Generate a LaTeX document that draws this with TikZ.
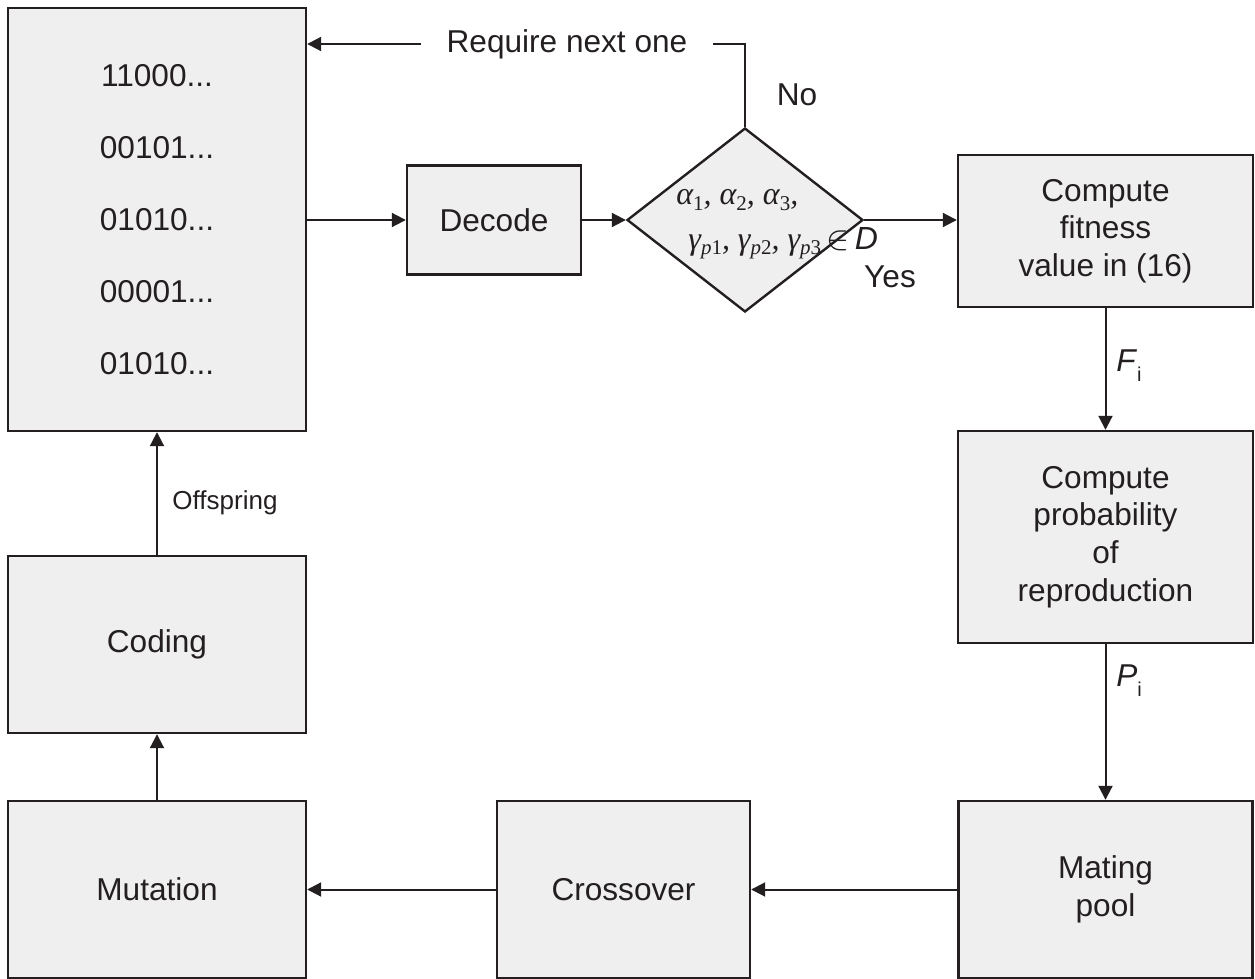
\documentclass[tikz,border=0pt]{standalone}
\usepackage{fontspec}
\setmainfont{Liberation Sans}
\newfontfamily\tmsfont{Liberation Serif}
\usetikzlibrary{shapes.geometric,arrows.meta}
\definecolor{boxfill}{HTML}{EFEFEF}
\definecolor{ink}{HTML}{231F20}
\newcommand\mainsz{\fontsize{15.8}{18.8}\selectfont}
\newcommand\gsub[1]{\raisebox{-0.35ex}{\fontsize{10.5}{12}\selectfont #1}}
\begin{document}
\begin{tikzpicture}[x=0.5pt,y=-0.5pt,
  box/.style={draw=ink,fill=boxfill,line width=1.2pt,rectangle,inner sep=0pt,align=center,font=\mainsz,text=ink},
  arr/.style={draw=ink,line width=1pt,-{Triangle[length=7pt,width=7pt]}},
  plain/.style={draw=ink,line width=1pt},
  lbl/.style={inner sep=0pt,font=\mainsz,text=ink},
  dtext/.style={inner sep=0pt,font=\fontsize{16}{19}\selectfont,text=ink,anchor=west}
]
\useasboundingbox (0,0) rectangle (1255,979);

\node[box,minimum width=149pt,minimum height=211.5pt,font=\fontsize{15.8}{36}\selectfont] (pop) at (157,219.5)
  {11000...\\00101...\\01010...\\00001...\\01010...};
\node[box,minimum width=87pt,minimum height=54.5pt] (dec) at (494,220) {Decode};
\node[draw=ink,fill=boxfill,line width=1.2pt,diamond,inner sep=0pt,minimum width=118pt,minimum height=92pt] (dia) at (745,220) {};
\node[dtext] (d1) at (676,200) {\tmsfont\itshape α\gsub{\upshape 1}, α\gsub{\upshape 2}, α\gsub{\upshape 3},};
\node[dtext] (d2) at (688,243) {\tmsfont\itshape γ\gsub{p\upshape 1}, γ\gsub{p\upshape 2}, γ\gsub{p\upshape 3}\,$\in$\,{\normalfont\itshape D}};
\node[box,minimum width=147.5pt,minimum height=76pt] (fit) at (1105.5,231) {Compute\\fitness\\value in (16)};
\node[box,minimum width=147.5pt,minimum height=106pt] (prob) at (1105.5,537) {Compute\\probability\\of\\reproduction};
\node[box,minimum width=147pt,minimum height=88.5pt] (mate) at (1105.5,889.5) {Mating\\pool};
\node[box,minimum width=126.5pt,minimum height=88.5pt] (cross) at (623.5,889.5) {Crossover};
\node[box,minimum width=149pt,minimum height=88.5pt] (mut) at (157,889.5) {Mutation};
\node[box,minimum width=149pt,minimum height=88.5pt] (cod) at (157,644.5) {Coding};

\node[lbl,inner xsep=12.5pt] (req) at (567,44) {Require next one};
\node[lbl] (no) at (797,95) {No};
\node[lbl] (yes) at (890,277) {Yes};
\node[lbl,anchor=west] (fl) at (1116,366) {\textit{F}\raisebox{-0.6ex}{\fontsize{10}{12}\selectfont i}};
\node[lbl,anchor=west] (pl) at (1116,681) {\textit{P}\raisebox{-0.6ex}{\fontsize{10}{12}\selectfont i}};
\node[lbl,font=\fontsize{13}{15}\selectfont] (off) at (225,503) {Offspring};

\draw[arr] (pop.east |- dec.west) -- (dec.west);
\draw[arr] (dec.east) -- (dia.west);
\draw[arr] (dia.east) -- (dia.east -| fit.west);
\draw[plain] (dia.north) |- (req.east);
\draw[arr] (req.west) -- (req.west -| pop.east);
\draw[arr] (fit.south) -- (prob.north);
\draw[arr] (prob.south) -- (mate.north);
\draw[arr] (mate.west) -- (cross.east);
\draw[arr] (cross.west) -- (mut.east);
\draw[arr] (mut.north) -- (cod.south);
\draw[arr] (cod.north) -- (pop.south);
\end{tikzpicture}
\end{document}
